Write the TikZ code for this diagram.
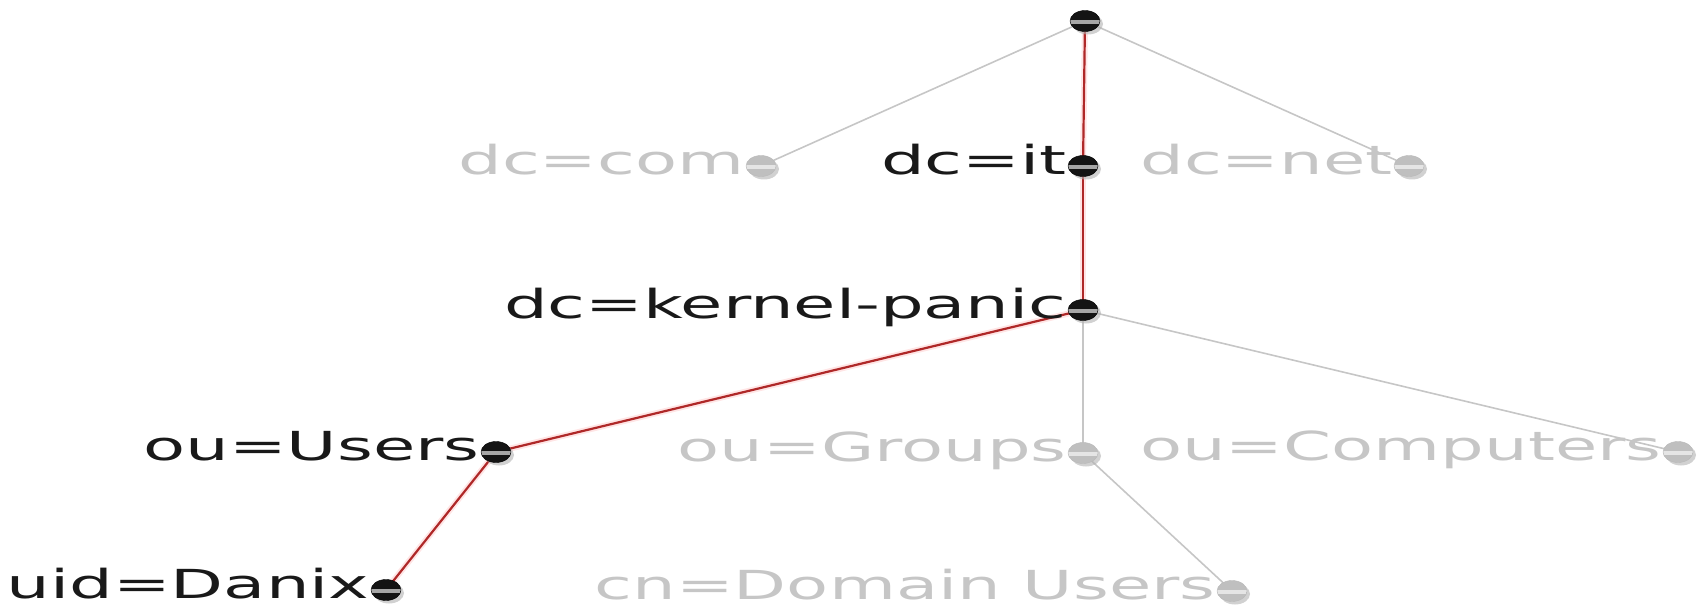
\documentclass[tikz,border=0pt]{standalone}
\usepackage{fontspec}
\setmainfont{DejaVu Sans}
\usetikzlibrary{positioning,shapes.geometric,shadows,backgrounds}

\tikzset{
  dot/.style={ellipse, minimum width=30pt, minimum height=21pt, inner sep=0pt,
    drop shadow={shadow xshift=3pt, shadow yshift=-3pt, fill=black!30, opacity=.6},
    path picture={\fill[#1] ([yshift=-3pt]path picture bounding box.west)
      rectangle ([yshift=1pt]path picture bounding box.east);}},
  ondot/.style={dot=gray!70, fill=black!92, draw=black},
  offdot/.style={dot=gray!20, fill=gray!50, draw=gray!55},
  lbl/.style={font=\fontsize{40}{44}\selectfont, inner sep=0pt, xscale=1.72},
  onlbl/.style={lbl, text=black!90},
  offlbl/.style={lbl, text=gray!45},
  offedge/.style={draw=gray!45, line width=1.6pt, line cap=round},
  onedge/.style={draw={rgb,255:red,175;green,40;blue,40}, line width=2.2pt, line cap=round,
    preaction={draw=red!10, line width=6pt}},
}

\begin{document}
\begin{tikzpicture}[x=1pt, y=-1pt]
\useasboundingbox (0,0) rectangle (1698,607);

% entries of the directory tree
\node[ondot]  (root)      at (1085,21)  {};
\node[offdot] (com)       at (761,166)  {};
\node[ondot]  (it)        at (1083,166) {};
\node[offdot] (net)       at (1409,166) {};
\node[ondot]  (kernel)    at (1083,310) {};
\node[ondot]  (users)     at (496,452)  {};
\node[offdot] (groups)    at (1083,453) {};
\node[offdot] (computers) at (1678,452) {};
\node[ondot]  (danix)     at (386,590)  {};
\node[offdot] (domain)    at (1232,591) {};

% names
\node[offlbl, left=1pt of com, anchor=mid east, yshift=-6pt]       (com-l)       {dc=com};
\node[onlbl, left=1pt of it, anchor=mid east, yshift=-6pt]         (it-l)        {dc=it};
\node[offlbl, left=1pt of net, anchor=mid east, yshift=-6pt]       (net-l)       {dc=net};
\node[onlbl, left=1pt of kernel, anchor=mid east, yshift=-6pt]     (kernel-l)    {dc=kernel-panic};
\node[onlbl, left=1pt of users, anchor=mid east, yshift=-6pt]      (users-l)     {ou=Users};
\node[offlbl, left=1pt of groups, anchor=mid east, yshift=-6pt]    (groups-l)    {ou=Groups};
\node[offlbl, left=1pt of computers, anchor=mid east, yshift=-6pt] (computers-l) {ou=Computers};
\node[onlbl, left=1pt of danix, anchor=mid east, yshift=-6pt]      (danix-l)     {uid=Danix};
\node[offlbl, left=1pt of domain, anchor=mid east, yshift=-6pt]    (domain-l)    {cn=Domain Users};

\begin{scope}[on background layer]
\draw[offedge] (root.center) -- (com.center);
\draw[offedge] (root.center) -- (net.center);
\draw[offedge] (kernel.center) -- (groups.center);
\draw[offedge] (kernel.center) -- (computers.center);
\draw[offedge] (groups.center) -- (domain.center);
\draw[onedge] (root.center) -- (it.center);
\draw[onedge] (it.center) -- (kernel.center);
\draw[onedge] (kernel.center) -- (users.center);
\draw[onedge] (users.center) -- (danix.center);
\end{scope}
\end{tikzpicture}
\end{document}
